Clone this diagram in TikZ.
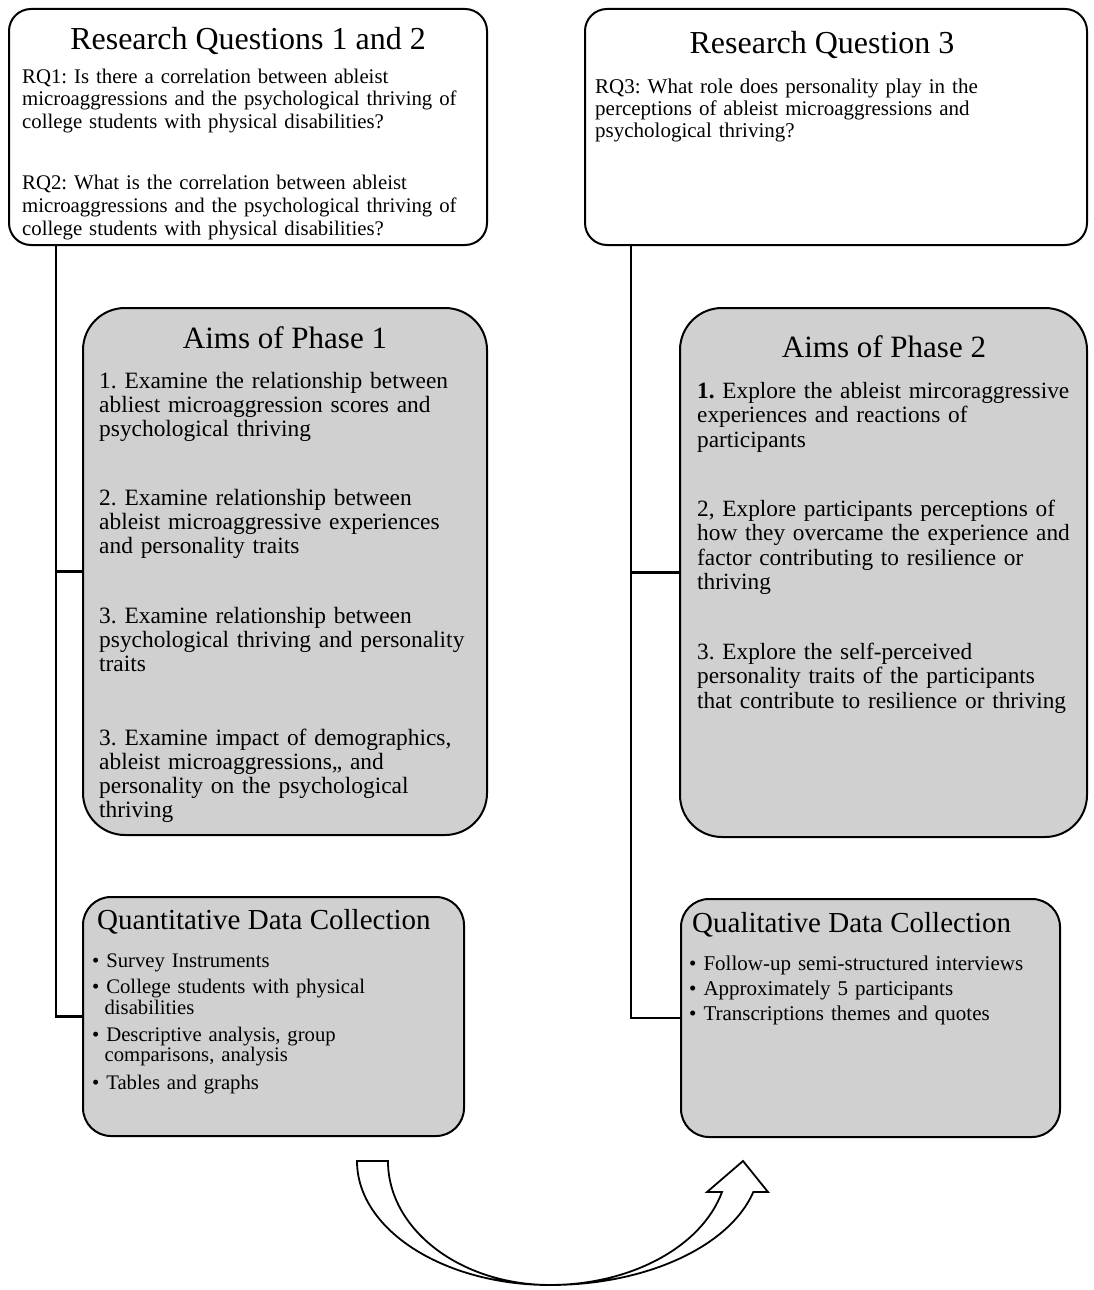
\documentclass[tikz,border=0pt]{standalone}
\usepackage{fontspec}
\setmainfont{Liberation Serif}
\usepackage{xcolor}
\usepackage{tikz}

\definecolor{boxgray}{RGB}{208,208,208}
\frenchspacing

\begin{document}
\begin{tikzpicture}[
    x=1pt, y=-1pt,
    question/.style={draw, line width=2pt, rounded corners=22pt, fill=white, inner sep=0pt},
    aims/.style={draw, line width=2pt, rounded corners=42pt, fill=boxgray, inner sep=0pt},
    collect/.style={draw, line width=2pt, rounded corners=28pt, fill=boxgray, inner sep=0pt},
    head/.style={anchor=base, inner sep=0pt},
    body/.style={anchor=base west, inner sep=0pt, align=left},
    link/.style={line width=2.2pt},
    flowarrow/.style={draw, line width=1.8pt, fill=white, line join=miter}
]
\useasboundingbox (0,0) rectangle (1094,1290);

% boxes
\node[question, minimum width=478pt, minimum height=236pt] (RQ12) at (248,127) {};
\node[question, minimum width=502pt, minimum height=236pt] (RQ3) at (836,127) {};
\node[aims, minimum width=404pt, minimum height=527pt] (Aims1) at (285,571.5) {};
\node[aims, minimum width=407pt, minimum height=529pt] (Aims2) at (883.5,572.5) {};
\node[collect, minimum width=381pt, minimum height=239pt] (Quant) at (273.5,1016.5) {};
\node[collect, minimum width=379pt, minimum height=238pt] (Qual) at (870.5,1018) {};

% research questions
\node[head, font=\fontsize{32pt}{36pt}\selectfont] (RQ12title) at (248,49) {Research Questions 1 and 2};
\node[body, text width=470pt, font=\fontsize{20.8pt}{22.5pt}\selectfont] (RQ12text) at (22,83)
  {RQ1: Is there a correlation between ableist\\
   microaggressions and the psychological thriving of\\
   college students with physical disabilities?\\[39.5pt]
   RQ2: What is the correlation between ableist\\
   microaggressions and the psychological thriving of\\
   college students with physical disabilities?};

\node[head, font=\fontsize{32pt}{36pt}\selectfont] (RQ3title) at (822,54) {Research Question 3};
\node[body, text width=480pt, font=\fontsize{21pt}{22pt}\selectfont] (RQ3text) at (595,93)
  {RQ3: What role does personality play in the\\
   perceptions of ableist microaggressions and\\
   psychological thriving?};

% aims
\node[head, font=\fontsize{31pt}{35pt}\selectfont] (Aims1title) at (285,348) {Aims of Phase 1};
\node[body, text width=400pt, font=\fontsize{23.4pt}{24pt}\selectfont] (Aims1text) at (99,388)
  {1. Examine the relationship between\\
   abliest microaggression scores and\\
   psychological thriving\\[45pt]
   2. Examine relationship between\\
   ableist microaggressive experiences\\
   and personality traits\\[46pt]
   3. Examine relationship between\\
   psychological thriving and personality\\
   traits\\[50pt]
   3. Examine impact of demographics,\\
   ableist microaggressions,, and\\
   personality on the psychological\\
   thriving};

\node[head, font=\fontsize{31pt}{35pt}\selectfont] (Aims2title) at (884,357) {Aims of Phase 2};
\node[body, text width=400pt, font=\fontsize{23.3pt}{24.5pt}\selectfont] (Aims2text) at (697,398)
  {\textbf{1.} Explore the ableist mircoraggressive\\
   experiences and reactions of\\
   participants\\[44.5pt]
   2, Explore participants perceptions of\\
   how they overcame the experience and\\
   factor contributing to resilience or\\
   thriving\\[45pt]
   3. Explore the self-perceived\\
   personality traits of the participants\\
   that contribute to resilience or thriving};

% data collection
\node[anchor=base west, inner sep=0pt, font=\fontsize{29pt}{33pt}\selectfont] (Quanttitle) at (97,929) {Quantitative Data Collection};
\node[body, text width=370pt, font=\fontsize{20.7pt}{20.5pt}\selectfont] (Quanttext) at (92,967)
  {\textbullet\ Survey Instruments\\[6pt]
   \textbullet\ College students with physical\\
   \hspace*{0.6em}disabilities\\[6.5pt]
   \textbullet\ Descriptive analysis, group\\
   \hspace*{0.6em}comparisons, analysis\\[7pt]
   \textbullet\ Tables and graphs};

\node[anchor=base west, inner sep=0pt, font=\fontsize{29pt}{33pt}\selectfont] (Qualtitle) at (692,932) {Qualitative Data Collection};
\node[body, text width=370pt, font=\fontsize{21pt}{21pt}\selectfont] (Qualtext) at (689,970)
  {\textbullet\ Follow-up semi-structured interviews\\[4pt]
   \textbullet\ Approximately 5 participants\\[4pt]
   \textbullet\ Transcriptions themes and quotes};

% connectors
\coordinate (spineL) at ([xshift=48pt]RQ12.south west);
\coordinate (spineR) at ([xshift=47pt]RQ3.south west);
\draw[link] (spineL) |- (Aims1.west);
\draw[link] (spineL) |- (Quant.west);
\draw[link] (spineR) |- (Aims2.west);
\draw[link] (spineR) |- (Qual.west);

% curved block arrow from phase 1 to phase 2
\path[flowarrow] (357,1161)
    arc[start angle=180, end angle=90, x radius=193, y radius=124]
    arc[start angle=90, end angle=14.5, x radius=210, y radius=124]
    -- (768,1192) -- (743,1161) -- (707,1192) -- (722,1192)
    arc[start angle=14.5, end angle=90, x radius=177.7, y radius=124]
    arc[start angle=90, end angle=180, x radius=162, y radius=124]
    -- cycle;
\end{tikzpicture}
\end{document}
